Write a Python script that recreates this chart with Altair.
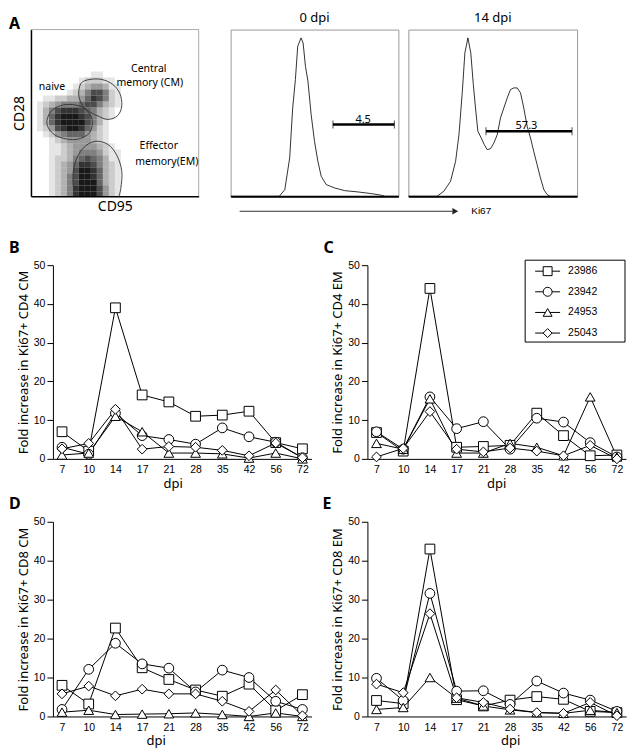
import altair as alt
import pandas as pd

# ---------------- data ----------------
dpi_labels = ["7", "10", "14", "17", "21", "28", "35", "42", "56", "72"]
series_names = ["23986", "23942", "24953", "25043"]
series_shapes = ["square", "circle", "triangle-up", "diamond"]

cd4_cm_23986 = [7, 2, 39, 16.5, 14.7, 11, 11.3, 12.3, 4.2, 2.6]
cd4_cm_23942 = [3, 1.2, 11.8, 6, 5, 3.8, 8, 5.7, 4.3, 0.3]
cd4_cm_24953 = [1, 1.5, 11, 7, 1.5, 1.5, 1.3, 0.2, 1.5, 0]
cd4_cm_25043 = [2.6, 4, 12.8, 2.5, 3.2, 3, 2.2, 0.8, 4.1, 0.3]

cd4_em_23986 = [6.8, 2, 44, 3, 3.2, 3.5, 11.8, 6, 0.8, 1]
cd4_em_23942 = [7, 2.5, 16, 7.8, 9.6, 2.5, 10.5, 9.5, 4.2, 0.5]
cd4_em_24953 = [4, 2.5, 15.5, 1.5, 1.5, 4, 3, 0.8, 16, 0.5]
cd4_em_25043 = [0.5, 2.7, 12.2, 2.5, 1.8, 2.8, 2, 0.8, 3.5, 0]

cd8_cm_23986 = [8, 3.2, 22.7, 12.5, 9.5, 6.8, 5.2, 8.3, 1.5, 5.6]
cd8_cm_23942 = [1.8, 12.1, 18.8, 13.5, 12.4, 6.3, 11.9, 10, 3.9, 1.8]
cd8_cm_24953 = [1.1, 1.6, 0.5, 0.6, 0.7, 0.9, 0.5, 0, 0.9, 0]
cd8_cm_25043 = [5.8, 7.8, 5.3, 7, 5.8, 5.8, 3.9, 1.3, 6.8, 0.2]

cd8_em_23986 = [4.1, 3.3, 43, 4.3, 2.7, 4.2, 5.1, 4.4, 1.3, 1]
cd8_em_23942 = [9.8, 4.1, 31.6, 6.5, 6.6, 3.1, 9.1, 6, 4.2, 1.3]
cd8_em_24953 = [1.8, 2.3, 10, 4.7, 2.7, 1.7, 1, 0.8, 1.6, 1]
cd8_em_25043 = [8.3, 6.1, 26.4, 4.8, 3.6, 1.9, 1, 0.8, 3.6, 0.2]

# flow cytometry dot-plot density (rows top->bottom, 28 x 28 cells, 0-9)
dot_density = [
    "0000000000000000000000000000",
    "0000000000000000000000000000",
    "0000000000000000000000000000",
    "0000000000000000000000000000",
    "0000000000000000000000000000",
    "0000000000000000000000000000",
    "0000000000000000000000000000",
    "0000000000110000000000000000",
    "0000000012221100000000000000",
    "0000000123443110000000000000",
    "0000001235775210000000000000",
    "0011223346875210000000000000",
    "0123455567753210000000000000",
    "0135788876532100000000000000",
    "0136899987532100000000000000",
    "0136899997531000000000000000",
    "0124789986421000000000000000",
    "0012456664321000000000000000",
    "0001234444321000000000000000",
    "0001123444432100000000000000",
    "0001123455542110000000000000",
    "0001223567653110000000000000",
    "0001234688753210000000000000",
    "0001234799863210000000000000",
    "0001235799863210000000000000",
    "0001235799963210000000000000",
    "0001235899974210000000000000",
    "0001235899974210000000000000",
]
cell = 6

# gates (CD95 units, CD28 units measured from top)
naive_u = [16, 22, 36, 52, 61, 59, 46, 29, 19]
naive_v = [91, 80, 75, 78, 89, 103, 110, 108, 101]
cm_u = [50, 59, 71, 82, 89, 91, 87, 77, 66, 54, 48]
cm_v = [54, 50, 50, 55, 64, 76, 86, 90, 86, 79, 67]
em_u = [44, 42, 44, 52, 64, 77, 86, 91, 90, 88]
em_v = [167, 151, 134, 119, 112, 115, 126, 142, 159, 167]

pop_labels = ["naive", "Central", "memory (CM)", "Effector", "memory(EM)"]
pop_u = [21, 118, 119, 128, 136]
pop_v = [58, 39.5, 53.5, 116.5, 132.5]

# Ki67 histograms (fraction of axis)
h0_x = [0, 0.29, 0.323, 0.352, 0.37, 0.386, 0.40, 0.42, 0.432, 0.446, 0.461, 0.48,
        0.50, 0.52, 0.54, 0.57, 0.62, 0.68, 0.76, 0.84, 0.90, 0.92, 1.0]
h0_y = [0, 0, 0.04, 0.23, 0.53, 0.70, 0.90, 0.95, 0.92, 0.78, 0.69, 0.49,
        0.33, 0.21, 0.12, 0.07, 0.05, 0.034, 0.026, 0.016, 0.006, 0, 0]
h14_x = [0, 0.17, 0.21, 0.25, 0.28, 0.30, 0.32, 0.335, 0.353, 0.37, 0.385, 0.398,
         0.412, 0.432, 0.45, 0.467, 0.487, 0.507, 0.527, 0.546, 0.566, 0.586, 0.605,
         0.625, 0.645, 0.665, 0.684, 0.704, 0.724, 0.743, 0.763, 0.783, 0.803, 0.823,
         0.84, 1.0]
h14_y = [0, 0, 0.03, 0.09, 0.21, 0.37, 0.63, 0.86, 0.95, 0.86, 0.67, 0.53,
         0.39, 0.35, 0.31, 0.28, 0.285, 0.32, 0.37, 0.47, 0.53, 0.59, 0.64,
         0.65, 0.65, 0.62, 0.53, 0.42, 0.35, 0.27, 0.19, 0.11, 0.04, 0.01,
         0, 0]
h0_gate = {"x1": 0.61, "x2": 0.976, "y": 0.43, "label": "4.5", "xl": 0.79}
h14_gate = {"x1": 0.46, "x2": 0.97, "y": 0.39, "label": "57.3", "xl": 0.70}

TITLE_FONT = "Noto Sans"
NUM_FONT = "Liberation Sans"

# ---------------- helpers ----------------
def letter(text, dx, dy):
    return alt.Chart(pd.DataFrame({"t": [text]})).mark_text(
        align="left", baseline="alphabetic", fontSize=16, fontWeight="bold",
        font=TITLE_FONT, color="black"
    ).encode(text="t:N", x=alt.value(dx), y=alt.value(dy))


def panel_df(vals):
    rows = []
    for name, v in zip(series_names, vals):
        for i, (d, y) in enumerate(zip(dpi_labels, v)):
            rows.append({"dpi": d, "idx": i, "series": name, "value": y})
    return pd.DataFrame(rows)


shape_enc = alt.Shape("series:N", scale=alt.Scale(domain=series_names, range=series_shapes),
                      legend=None)


def line_panel(vals, ytitle, title_x, let, ldx, ldy, h, legend=False):
    df = panel_df(vals)
    x = alt.X("dpi:N", sort=dpi_labels,
              scale=alt.Scale(type="point", padding=0.34, domain=dpi_labels),
              axis=alt.Axis(title="dpi", labelAngle=0, ticks=False, labelPadding=6,
                            labelFontSize=10.5, titleFontSize=13, titlePadding=2,
                            titleX=title_x))
    y = alt.Y("value:Q", scale=alt.Scale(domain=[0, 50], nice=False),
              axis=alt.Axis(title=ytitle, values=[0, 10, 20, 30, 40, 50], tickSize=6,
                            labelPadding=2, labelFontSize=10.5, titleFontSize=13,
                            titlePadding=3))
    base = alt.Chart(df)
    lines = base.mark_line(color="black", strokeWidth=1).encode(
        x=x, y=y, detail="series:N", order="idx:Q")
    pts = base.mark_point(filled=True, fill="white", stroke="black", strokeWidth=1,
                          size=95, opacity=1).encode(x=x, y=y, shape=shape_enc)
    data_layer = alt.layer(lines, pts)
    if not legend:
        return alt.layer(data_layer, letter(let, ldx, ldy)).properties(width=259, height=h)
    ldf = pd.DataFrame({"series": series_names})
    ly = alt.Y("series:N", sort=series_names,
               scale=alt.Scale(type="point", domain=series_names, range=[6, 68], padding=0),
               axis=None)
    box = alt.Chart(pd.DataFrame({"a": [0]})).mark_rect(
        fill="white", stroke="black", strokeWidth=1
    ).encode(x=alt.value(158), x2=alt.value(258), y=alt.value(-5), y2=alt.value(77))
    lb = alt.Chart(ldf)
    lrule = lb.mark_rule(color="black", strokeWidth=1).encode(
        x=alt.value(168), x2=alt.value(193), y=ly)
    lpts = lb.mark_point(filled=True, fill="white", stroke="black", strokeWidth=1,
                         size=80, opacity=1).encode(x=alt.value(180.5), y=ly, shape=shape_enc)
    ltxt = lb.mark_text(align="left", baseline="middle", font=NUM_FONT, fontSize=10.5,
                        color="black").encode(x=alt.value(201), y=ly, text="series:N")
    leg = alt.layer(lrule, lpts, ltxt)
    return alt.layer(data_layer, box, leg, letter(let, ldx, ldy)).resolve_scale(
        y="independent").properties(width=259, height=h)


# ---------------- panel A: dot plot ----------------
cells = []
for r, row in enumerate(dot_density):
    for c, ch in enumerate(row):
        d = int(ch)
        if d > 0:
            cells.append({"u0": c * cell, "u1": (c + 1) * cell,
                          "v0": r * cell, "v1": min((r + 1) * cell, 167), "d": d})
cells = pd.DataFrame(cells)

# the dot plot sits 22 px left of the panels below it
xs = alt.Scale(domain=[0, 168], nice=False, range=[-22, 146])
ys = alt.Scale(domain=[0, 167], nice=False, reverse=True)
x_ax = alt.Axis(title="CD95", labels=False, ticks=False, domainWidth=1.5,
                titleFontSize=14, titlePadding=3)
y_ax = alt.Axis(title="CD28", labels=False, ticks=False, domainWidth=1.5,
                titleFontSize=14, titlePadding=4, offset=22)

frame_top = alt.Chart(pd.DataFrame({"u0": [0], "u1": [168], "v": [0]})).mark_rule(
    color="#aaa", strokeWidth=1).encode(
    x=alt.X("u0:Q", scale=xs), x2="u1:Q", y=alt.Y("v:Q", scale=ys))
frame_right = alt.Chart(pd.DataFrame({"u": [168], "v0": [0], "v1": [167]})).mark_rule(
    color="#aaa", strokeWidth=1).encode(
    x=alt.X("u:Q", scale=xs), y=alt.Y("v0:Q", scale=ys), y2="v1:Q")

dots = alt.Chart(cells).mark_rect(fill="black").encode(
    x=alt.X("u0:Q", scale=xs, axis=x_ax), x2="u1:Q",
    y=alt.Y("v0:Q", scale=ys, axis=y_ax), y2="v1:Q",
    opacity=alt.Opacity("d:Q", scale=alt.Scale(domain=[0, 9], range=[0, 0.9]), legend=None))

gate_rows = []
for name, us, vs in [("naive", naive_u, naive_v), ("cm", cm_u, cm_v)]:
    for i, (u, v) in enumerate(zip(us, vs)):
        gate_rows.append({"gate": name, "i": i, "u": u, "v": v})
gates_closed = alt.Chart(pd.DataFrame(gate_rows)).mark_line(
    interpolate="cardinal-closed", color="#333", strokeWidth=0.9
).encode(x=alt.X("u:Q", scale=xs), y=alt.Y("v:Q", scale=ys), detail="gate:N", order="i:Q")
em_df = pd.DataFrame({"i": list(range(len(em_u))), "u": em_u, "v": em_v})
gate_em = alt.Chart(em_df).mark_line(interpolate="cardinal", color="#333", strokeWidth=0.9).encode(
    x=alt.X("u:Q", scale=xs), y=alt.Y("v:Q", scale=ys), order="i:Q")
pop_txt = alt.Chart(pd.DataFrame({"t": pop_labels, "u": pop_u, "v": pop_v})).mark_text(
    font=TITLE_FONT, fontSize=10.5, color="black", baseline="middle", align="center"
).encode(x=alt.X("u:Q", scale=xs), y=alt.Y("v:Q", scale=ys), text="t:N")

dot_panel = alt.layer(frame_top, frame_right, dots, gates_closed, gate_em, pop_txt,
                      letter("A", -44, -1)).properties(width=168, height=167)


# ---------------- panel A: histograms ----------------
def hist_panel(hx, hy, gate, title, width, extra=None):
    hs_x = alt.Scale(domain=[0, 1], nice=False)
    hs_y = alt.Scale(domain=[0, 1], nice=False)
    ax = alt.Axis(title="", labels=False, ticks=False, domainWidth=2, domainColor="black")
    curve = alt.Chart(pd.DataFrame({"x": hx, "y": hy, "i": list(range(len(hx)))})).mark_line(
        color="black", strokeWidth=0.8).encode(
        x=alt.X("x:Q", scale=hs_x, axis=ax), y=alt.Y("y:Q", scale=hs_y, axis=None), order="i:Q")
    gdf = pd.DataFrame({"x1": [gate["x1"]], "x2": [gate["x2"]], "y": [gate["y"]],
                        "xl": [gate["xl"]], "label": [gate["label"]]})
    bar = alt.Chart(gdf).mark_rule(color="black", strokeWidth=2.5).encode(
        x=alt.X("x1:Q", scale=hs_x), x2="x2:Q", y=alt.Y("y:Q", scale=hs_y))
    caps_df = pd.DataFrame({"x": [gate["x1"], gate["x2"]], "y": [gate["y"], gate["y"]]})
    caps = alt.Chart(caps_df).mark_tick(orient="vertical", size=8, thickness=1, color="black").encode(
        x=alt.X("x:Q", scale=hs_x), y=alt.Y("y:Q", scale=hs_y))
    lab = alt.Chart(gdf).mark_text(font=TITLE_FONT, fontSize=11, baseline="alphabetic", dy=-2,
                                   color="black").encode(
        x=alt.X("xl:Q", scale=hs_x), y=alt.Y("y:Q", scale=hs_y), text="label:N")
    layers = [curve, bar, caps, lab]
    if extra is not None:
        layers += extra
    return alt.layer(*layers).properties(
        width=width, height=167, view=alt.ViewBackground(stroke="#999"),
        title=alt.TitleParams(title, font=TITLE_FONT, fontSize=13, fontWeight="normal",
                              offset=5, color="black"))


one = pd.DataFrame({"t": ["Ki67"]})
arrow_line = alt.Chart(one).mark_rule(color="#333", strokeWidth=1).encode(
    x=alt.value(9), x2=alt.value(222), y=alt.value(182))
arrow_head = alt.Chart(one).mark_point(shape="triangle-right", filled=True, color="#222",
                                       size=45, opacity=1).encode(
    x=alt.value(225), y=alt.value(182))
arrow_txt = alt.Chart(one).mark_text(align="left", baseline="middle", font=NUM_FONT,
                                     fontSize=10, color="black").encode(
    x=alt.value(241), y=alt.value(182), text="t:N")

h0_panel = hist_panel(h0_x, h0_y, h0_gate, "0 dpi", 168, [arrow_line, arrow_head, arrow_txt])
h14_panel = hist_panel(h14_x, h14_y, h14_gate, "14 dpi", 169)

# ---------------- panels B-E ----------------
pB = line_panel([cd4_cm_23986, cd4_cm_23942, cd4_cm_24953, cd4_cm_25043],
                "Fold increase in Ki67+ CD4 CM", 120, "B", -44, -12, 194)
pC = line_panel([cd4_em_23986, cd4_em_23942, cd4_em_24953, cd4_em_25043],
                "Fold increase in Ki67+ CD4 EM", 129, "C", -44, -12, 194, legend=True)
pD = line_panel([cd8_cm_23986, cd8_cm_23942, cd8_cm_24953, cd8_cm_25043],
                "Fold increase in Ki67+ CD8 CM", 103, "D", -44, -13, 195)
pE = line_panel([cd8_em_23986, cd8_em_23942, cd8_em_24953, cd8_em_25043],
                "Fold increase in Ki67+ CD8 EM", 143, "E", -45, -13, 195)

top = alt.hconcat(dot_panel, h0_panel, h14_panel, spacing=10, bounds="flush")
bottom = alt.concat(pB, pC, pD, pE, columns=2, bounds="flush",
                    spacing=alt.RowColnumber(row=63, column=56))

chart = alt.vconcat(top, bottom, spacing=22).properties(
    padding={"top": 2, "left": 0, "right": 0, "bottom": 0}, background="white"
).configure_view(stroke="transparent").configure_axis(
    grid=False, domainColor="black", tickColor="black", labelColor="black",
    titleColor="black", labelFont=NUM_FONT, titleFont=TITLE_FONT, titleFontWeight="normal"
)

chart.save("out.html", embed_options={"renderer": "svg", "actions": False})
